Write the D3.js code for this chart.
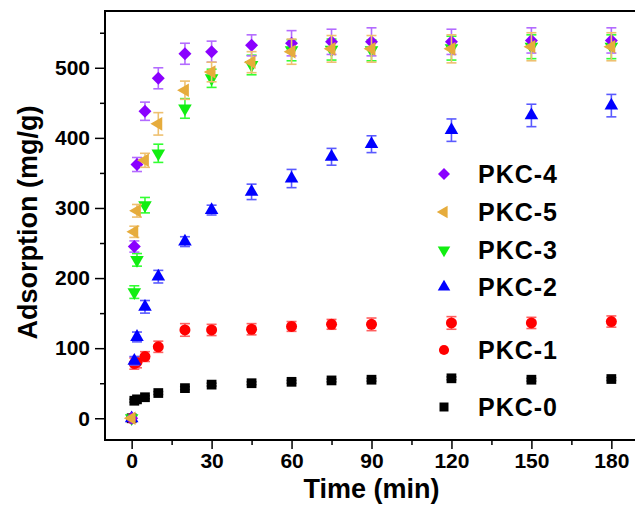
<!DOCTYPE html>
<html>
<head>
<meta charset="utf-8">
<script src="https://cdn.jsdelivr.net/npm/d3@7"></script>
<style>
  body { margin: 0; background: #fff; }
  svg { display: block; font-family: Arial, "Liberation Sans", sans-serif; }
</style>
</head>
<body>
<div class="container"></div>
<script>
const times = [0, 1, 2, 5, 10, 20, 30, 45, 60, 75, 90, 120, 150, 180]

const pkc0 = [0, 25, 27, 30, 36, 43, 48, 50, 52, 54, 55, 57, 55, 56]
const pkc0Err = [0, 2, 2, 2, 2, 2, 2, 2, 2, 2, 2, 2, 2, 2]
const pkc1 = [0, 78, 80, 88, 102, 126, 126, 127, 131, 134, 134, 136, 136, 138]
const pkc1Err = [0, 8, 8, 7, 8, 9, 8, 8, 7, 7, 9, 9, 8, 8]
const pkc2 = [0, 82, 116, 159, 202, 252, 297, 323, 342, 373, 391, 411, 432, 446]
const pkc2Err = [0, 6, 7, 9, 9, 7, 7, 11, 13, 12, 12, 16, 16, 16]
const pkc3 = [0, 180, 226, 304, 378, 442, 485, 504, 525, 526, 525, 528, 530, 530]
const pkc3Err = [0, 9, 9, 11, 13, 14, 13, 14, 15, 15, 15, 17, 17, 17]
const pkc4 = [0, 245, 362, 438, 485, 520, 523, 532, 535, 537, 537, 537, 539, 539]
const pkc4Err = [0, 8, 10, 13, 15, 15, 15, 15, 18, 18, 20, 18, 18, 18]
const pkc5 = [0, 266, 296, 368, 420, 468, 494, 508, 523, 527, 527, 527, 530, 530]
const pkc5Err = [0, 8, 9, 10, 16, 13, 14, 15, 18, 19, 19, 20, 20, 20]

const xTicks = [0, 30, 60, 90, 120, 150, 180]
const yTicks = [0, 100, 200, 300, 400, 500]

// custom square-ish diamond
const diamond = {
    draw(ctx, size){
        const r = Math.sqrt(size / 2)
        ctx.moveTo(0, -r); ctx.lineTo(r, 0); ctx.lineTo(0, r); ctx.lineTo(-r, 0); ctx.closePath()
    }
}

// draw order: last on top
const series = [
    {name: "PKC-0", vals: pkc0, err: pkc0Err, color: "#000000", bar: "#555555", sym: d3.symbolSquare, size: 95, rot: 0},
    {name: "PKC-1", vals: pkc1, err: pkc1Err, color: "#ff0000", bar: "#ff6060", sym: d3.symbolCircle, size: 95, rot: 0},
    {name: "PKC-2", vals: pkc2, err: pkc2Err, color: "#0000ff", bar: "#5a5aff", sym: d3.symbolTriangle, size: 80, rot: 0},
    {name: "PKC-3", vals: pkc3, err: pkc3Err, color: "#11ee11", bar: "#33ff33", sym: d3.symbolTriangle, size: 80, rot: 180},
    {name: "PKC-4", vals: pkc4, err: pkc4Err, color: "#8a00ff", bar: "#b36bff", sym: diamond, size: 84, rot: 0},
    {name: "PKC-5", vals: pkc5, err: pkc5Err, color: "#e6ac3c", bar: "#eec070", sym: d3.symbolTriangle, size: 80, rot: -90}
]

const legendOrder = ["PKC-4", "PKC-5", "PKC-3", "PKC-2", "PKC-1", "PKC-0"]
const legendRowY = [174, 212, 250, 287, 350, 407]

const width = 635, height = 506
const plotLeft = 105, plotTop = 11, plotBottom = 440, plotRight = 638

const svg = d3.select(".container")
              .append("svg")
              .attr("width", width)
              .attr("height", height)

const x = d3.scaleLinear().domain([-10, 190]).range([plotLeft, plotRight])
const y = d3.scaleLinear().domain([-31, 581]).range([plotBottom, plotTop])

// frame
svg.append("path")
   .attr("d", `M${plotRight},${plotTop}H${plotLeft}V${plotBottom}H${plotRight}`)
   .attr("fill", "none")
   .attr("stroke", "#000")
   .attr("stroke-width", 2)

// x axis
const xAxis = svg.append("g")
   .attr("transform", `translate(0,${plotBottom})`)
   .call(d3.axisBottom(x).tickValues(xTicks).tickSize(9).tickPadding(4).tickFormat(d3.format("d")))
xAxis.select(".domain").remove()
xAxis.selectAll("line").attr("stroke-width", 1.5)
xAxis.selectAll("text").attr("font-size", 21).attr("font-weight", "bold").attr("fill", "#000").attr("font-family", "Arial, 'Liberation Sans', sans-serif")
svg.append("g")
   .attr("transform", `translate(0,${plotBottom})`)
   .call(d3.axisBottom(x).tickValues(xTicks.map(d => d + 15).filter(d => d < 190)).tickSize(5).tickFormat(""))
   .call(g => g.select(".domain").remove())
   .selectAll("line").attr("stroke-width", 1.5)

// y axis
const yAxis = svg.append("g")
   .attr("transform", `translate(${plotLeft},0)`)
   .call(d3.axisLeft(y).tickValues(yTicks).tickSize(10).tickPadding(5))
yAxis.select(".domain").remove()
yAxis.selectAll("line").attr("stroke-width", 1.5)
yAxis.selectAll("text").attr("font-size", 21).attr("font-weight", "bold").attr("fill", "#000").attr("font-family", "Arial, 'Liberation Sans', sans-serif")
svg.append("g")
   .attr("transform", `translate(${plotLeft},0)`)
   .call(d3.axisLeft(y).tickValues(yTicks.map(d => d + 50)).tickSize(5).tickFormat(""))
   .call(g => g.select(".domain").remove())
   .selectAll("line").attr("stroke-width", 1.5)

// axis titles
svg.append("text")
   .attr("x", x(90))
   .attr("y", 498)
   .attr("text-anchor", "middle")
   .attr("font-size", 27)
   .attr("font-weight", "bold")
   .text("Time (min)")

svg.append("text")
   .attr("transform", `translate(37,${(plotTop + plotBottom) / 2 - 3}) rotate(-90)`)
   .attr("text-anchor", "middle")
   .attr("font-size", 27)
   .attr("font-weight", "bold")
   .text("Adsorption (mg/g)")

// data
const plot = svg.append("g")

series.forEach((s) => {
    const pts = times.map((t, i) => ({t: t, v: s.vals[i], e: s.err[i]}))
    const g = plot.append("g")

    const bars = g.selectAll(".eb")
        .data(pts.filter(d => d.e > 0))
        .enter()
        .append("g")
        .attr("stroke", s.bar)
        .attr("stroke-width", 1.6)
    bars.append("line")
        .attr("x1", d => x(d.t)).attr("x2", d => x(d.t))
        .attr("y1", d => y(d.v - d.e)).attr("y2", d => y(d.v + d.e))
    bars.append("line")
        .attr("x1", d => x(d.t) - 5).attr("x2", d => x(d.t) + 5)
        .attr("y1", d => y(d.v + d.e)).attr("y2", d => y(d.v + d.e))
    bars.append("line")
        .attr("x1", d => x(d.t) - 5).attr("x2", d => x(d.t) + 5)
        .attr("y1", d => y(d.v - d.e)).attr("y2", d => y(d.v - d.e))

    g.selectAll(".pt")
        .data(pts)
        .enter()
        .append("path")
        .attr("d", d3.symbol().type(s.sym).size(s.size))
        .attr("transform", d => `translate(${x(d.t)},${y(d.v)}) rotate(${s.rot})`)
        .attr("fill", s.color)
})

// legend
const legend = svg.append("g")
legendOrder.forEach((name, i) => {
    const s = series.find(d => d.name === name)
    legend.append("path")
        .attr("d", d3.symbol().type(s.sym).size(s.size * 0.85))
        .attr("transform", `translate(444,${legendRowY[i]}) rotate(${s.rot})`)
        .attr("fill", s.color)
    legend.append("text")
        .attr("x", 478)
        .attr("y", legendRowY[i])
        .attr("dy", "0.36em")
        .attr("font-size", 25)
        .attr("font-weight", "bold")
        .attr("letter-spacing", 1)
        .text(name)
})
</script>
</body>
</html>
